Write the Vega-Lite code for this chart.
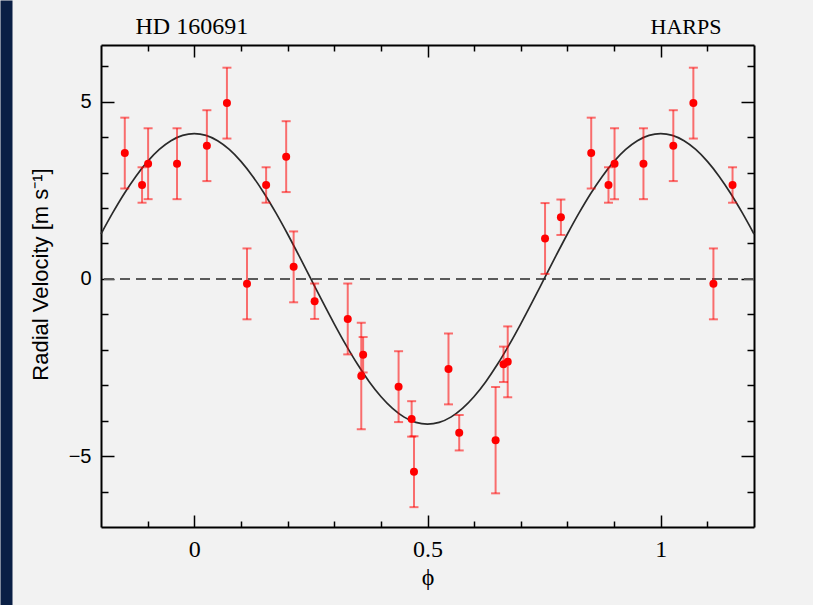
{
  "$schema": "https://vega.github.io/schema/vega-lite/v6.json",
  "width": 653,
  "height": 482,
  "autosize": {"type": "none"},
  "padding": {"left": 101, "top": 45, "right": 59, "bottom": 78},
  "background": "#f2f2f2",
  "config": {
    "view": {"stroke": null},
    "axis": {
      "grid": false,
      "domainColor": "black",
      "domainWidth": 2,
      "tickColor": "black",
      "tickWidth": 1.5,
      "labelColor": "black",
      "titleColor": "black",
      "titleFontWeight": "normal"
    }
  },
  "datasets": {
    "zero": [{"v": 0}],
    "obs": [
      {"phi": 0.027, "v": 3.76, "err": 1.0},
      {"phi": 0.070, "v": 4.96, "err": 1.0},
      {"phi": 0.113, "v": -0.14, "err": 1.0},
      {"phi": 0.154, "v": 2.65, "err": 0.5},
      {"phi": 0.197, "v": 3.45, "err": 1.0},
      {"phi": 0.213, "v": 0.34, "err": 1.0},
      {"phi": 0.258, "v": -0.63, "err": 0.5},
      {"phi": 0.329, "v": -1.13, "err": 1.0},
      {"phi": 0.358, "v": -2.74, "err": 1.5},
      {"phi": 0.362, "v": -2.14, "err": 0.5},
      {"phi": 0.438, "v": -3.04, "err": 1.0},
      {"phi": 0.466, "v": -3.95, "err": 0.5},
      {"phi": 0.471, "v": -5.44, "err": 1.0},
      {"phi": 0.545, "v": -2.54, "err": 1.0},
      {"phi": 0.568, "v": -4.34, "err": 0.5},
      {"phi": 0.646, "v": -4.55, "err": 1.5},
      {"phi": 0.663, "v": -2.41, "err": 0.5},
      {"phi": 0.672, "v": -2.34, "err": 1.0},
      {"phi": 0.752, "v": 1.14, "err": 1.0},
      {"phi": 0.786, "v": 1.74, "err": 0.5},
      {"phi": 0.851, "v": 3.55, "err": 1.0},
      {"phi": 0.888, "v": 2.65, "err": 0.5},
      {"phi": 0.901, "v": 3.25, "err": 1.0},
      {"phi": 0.963, "v": 3.25, "err": 1.0},
      {"phi": -0.149, "v": 3.55, "err": 1.0},
      {"phi": -0.112, "v": 2.65, "err": 0.5},
      {"phi": -0.099, "v": 3.25, "err": 1.0},
      {"phi": -0.037, "v": 3.25, "err": 1.0},
      {"phi": 1.027, "v": 3.76, "err": 1.0},
      {"phi": 1.070, "v": 4.96, "err": 1.0},
      {"phi": 1.113, "v": -0.14, "err": 1.0},
      {"phi": 1.154, "v": 2.65, "err": 0.5}
    ],
    "model": [
      {"phi": -0.2, "v": 1.267}, {"phi": -0.175, "v": 1.8614}, {"phi": -0.15, "v": 2.4099},
      {"phi": -0.125, "v": 2.8991}, {"phi": -0.1, "v": 3.317}, {"phi": -0.075, "v": 3.6531},
      {"phi": -0.05, "v": 3.8993}, {"phi": -0.025, "v": 4.0495}, {"phi": 0, "v": 4.1},
      {"phi": 0.025, "v": 4.0495}, {"phi": 0.05, "v": 3.8993}, {"phi": 0.075, "v": 3.6531},
      {"phi": 0.1, "v": 3.317}, {"phi": 0.125, "v": 2.8991}, {"phi": 0.15, "v": 2.4099},
      {"phi": 0.175, "v": 1.8614}, {"phi": 0.2, "v": 1.267}, {"phi": 0.225, "v": 0.6414},
      {"phi": 0.25, "v": 0}, {"phi": 0.275, "v": -0.6414}, {"phi": 0.3, "v": -1.267},
      {"phi": 0.325, "v": -1.8614}, {"phi": 0.35, "v": -2.4099}, {"phi": 0.375, "v": -2.8991},
      {"phi": 0.4, "v": -3.317}, {"phi": 0.425, "v": -3.6531}, {"phi": 0.45, "v": -3.8993},
      {"phi": 0.475, "v": -4.0495}, {"phi": 0.5, "v": -4.1}, {"phi": 0.525, "v": -4.0495},
      {"phi": 0.55, "v": -3.8993}, {"phi": 0.575, "v": -3.6531}, {"phi": 0.6, "v": -3.317},
      {"phi": 0.625, "v": -2.8991}, {"phi": 0.65, "v": -2.4099}, {"phi": 0.675, "v": -1.8614},
      {"phi": 0.7, "v": -1.267}, {"phi": 0.725, "v": -0.6414}, {"phi": 0.75, "v": 0},
      {"phi": 0.775, "v": 0.6414}, {"phi": 0.8, "v": 1.267}, {"phi": 0.825, "v": 1.8614},
      {"phi": 0.85, "v": 2.4099}, {"phi": 0.875, "v": 2.8991}, {"phi": 0.9, "v": 3.317},
      {"phi": 0.925, "v": 3.6531}, {"phi": 0.95, "v": 3.8993}, {"phi": 0.975, "v": 4.0495},
      {"phi": 1.0, "v": 4.1}, {"phi": 1.025, "v": 4.0495}, {"phi": 1.05, "v": 3.8993},
      {"phi": 1.075, "v": 3.6531}, {"phi": 1.1, "v": 3.317}, {"phi": 1.125, "v": 2.8991},
      {"phi": 1.15, "v": 2.4099}, {"phi": 1.175, "v": 1.8614}, {"phi": 1.2, "v": 1.267}
    ]
  },
  "resolve": {"axis": {"x": "independent", "y": "independent"}},
  "layer": [
    {
      "data": {"name": "zero"},
      "mark": {"type": "rule", "color": "#5a5a5a", "strokeWidth": 2, "strokeDash": [10, 6]},
      "encoding": {
        "y": {"field": "v", "type": "quantitative", "scale": {"domain": [-7, 6.6], "nice": false, "zero": false}, "axis": null}
      }
    },
    {
      "data": {"name": "model"},
      "mark": {"type": "line", "color": "#2a2a2a", "strokeWidth": 1.7, "interpolate": "monotone"},
      "encoding": {
        "x": {
          "field": "phi", "type": "quantitative",
          "scale": {"domain": [-0.2, 1.2], "nice": false, "zero": false},
          "axis": {
            "orient": "top",
            "values": [-0.1, 0, 0.1, 0.2, 0.3, 0.4, 0.5, 0.6, 0.7, 0.8, 0.9, 1, 1.1],
            "labels": false,
            "tickSize": {"condition": {"test": "abs(datum.value*2 - round(datum.value*2)) < 0.000001", "value": -12}, "value": -6},
            "title": "HARPS",
            "titleFont": "Liberation Serif",
            "titleFontSize": 22,
            "titleAngle": 0,
            "titleX": 620,
            "titleY": -12,
            "titleAlign": "right",
            "titleBaseline": "alphabetic"
          }
        },
        "y": {
          "field": "v", "type": "quantitative",
          "scale": {"domain": [-7, 6.6], "nice": false, "zero": false},
          "axis": {
            "orient": "right",
            "values": [-6, -5, -4, -3, -2, -1, 0, 1, 2, 3, 4, 5, 6],
            "labels": false,
            "tickSize": {"condition": {"test": "datum.value % 5 == 0", "value": -13}, "value": -7},
            "title": null
          }
        }
      }
    },
    {
      "data": {"name": "obs"},
      "mark": {
        "type": "errorbar",
        "color": "#ff0000",
        "opacity": 0.55,
        "ticks": {"size": 9, "thickness": 2},
        "rule": {"strokeWidth": 2}
      },
      "encoding": {
        "x": {
          "field": "phi", "type": "quantitative",
          "scale": {"domain": [-0.2, 1.2], "nice": false, "zero": false},
          "axis": {
            "orient": "top",
            "offset": 45,
            "domain": false,
            "values": [-0.1],
            "labels": false,
            "ticks": true,
            "tickColor": "#0a1f45",
            "tickWidth": 12,
            "tickSize": -605,
            "tickOffset": -141.64,
            "tickCap": "butt",
            "title": "HD 160691",
            "titleFont": "Liberation Serif",
            "titleFontSize": 24,
            "titleAngle": 0,
            "titleX": 34,
            "titleY": 33,
            "titleAlign": "left",
            "titleBaseline": "alphabetic"
          }
        },
        "y": {
          "field": "v", "type": "quantitative",
          "scale": {"domain": [-7, 6.6], "nice": false, "zero": false},
          "axis": null
        },
        "yError": {"field": "err"}
      }
    },
    {
      "data": {"name": "obs"},
      "mark": {"type": "circle", "color": "#ff0000", "opacity": 1, "size": 64},
      "encoding": {
        "x": {
          "field": "phi", "type": "quantitative",
          "scale": {"domain": [-0.2, 1.2], "nice": false, "zero": false},
          "axis": {
            "orient": "bottom",
            "values": [-0.1, 0, 0.1, 0.2, 0.3, 0.4, 0.5, 0.6, 0.7, 0.8, 0.9, 1, 1.1],
            "labelExpr": "abs(datum.value) < 0.000001 ? '0' : abs(datum.value - 0.5) < 0.000001 ? '0.5' : abs(datum.value - 1) < 0.000001 ? '1' : ''",
            "tickSize": {"condition": {"test": "abs(datum.value*2 - round(datum.value*2)) < 0.000001", "value": -12}, "value": -6},
            "labelFont": "Liberation Serif",
            "labelFontSize": 24,
            "labelPadding": 22,
            "labelBaseline": "top",
            "labelFlush": false,
            "labelOverlap": false,
            "title": "ϕ",
            "titleFont": "Liberation Serif",
            "titleFontSize": 24,
            "titleX": 326.5,
            "titleY": 57,
            "titleBaseline": "alphabetic"
          }
        },
        "y": {
          "field": "v", "type": "quantitative",
          "scale": {"domain": [-7, 6.6], "nice": false, "zero": false},
          "axis": {
            "orient": "left",
            "values": [-6, -5, -4, -3, -2, -1, 0, 1, 2, 3, 4, 5, 6],
            "labelExpr": "datum.value == 5 ? '5' : datum.value == 0 ? '0' : datum.value == -5 ? '−5' : ''",
            "tickSize": {"condition": {"test": "datum.value % 5 == 0", "value": -13}, "value": -7},
            "labelFont": "Liberation Sans",
            "labelFontSize": 20,
            "labelPadding": 23,
            "labelFlush": false,
            "labelOverlap": false,
            "title": "Radial Velocity [m s⁻¹]",
            "titleFont": "Liberation Sans",
            "titleFontSize": 22,
            "titleAngle": -90,
            "titleX": -61,
            "titleY": 229,
            "titleAlign": "center",
            "titleBaseline": "middle"
          }
        }
      }
    }
  ]
}
